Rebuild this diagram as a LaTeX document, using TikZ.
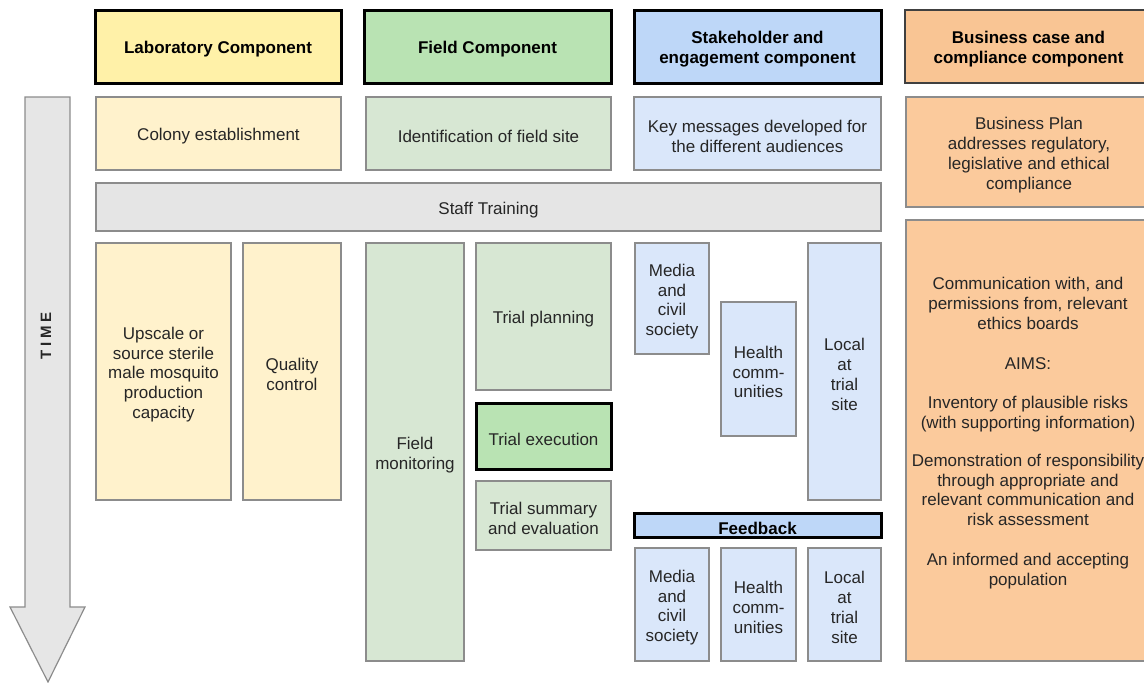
\documentclass[tikz,border=0pt]{standalone}
\usepackage{fontspec}
\setmainfont{Liberation Sans}
\definecolor{txt}{HTML}{262626}
\definecolor{bgray}{HTML}{8C8C8C}
\definecolor{labhead}{HTML}{FFF1A8}
\definecolor{lablight}{HTML}{FFF2CC}
\definecolor{fieldhead}{HTML}{B9E3B3}
\definecolor{fieldlight}{HTML}{D7E7D3}
\definecolor{stakehead}{HTML}{BED7F8}
\definecolor{stakelight}{HTML}{DAE7FA}
\definecolor{bushead}{HTML}{F9C594}
\definecolor{buslight}{HTML}{FBCA9C}
\definecolor{staffgray}{HTML}{E5E5E5}
\definecolor{arrowgray}{HTML}{E6E6E6}
\newcommand\bx[7]{%
  \node[#6, minimum width={#4-#2}, minimum height={#5-#3}] (#1) at ({(#2+#4)/2},{(#3+#5)/2}) {};
  \node[#6, draw=none, fill=none, minimum width=0pt, minimum height=0pt] (#1-t) at ([yshift=-3pt]#1.center) {#7};}
\tikzset{
  box/.style={draw=bgray, line width=1.2pt, inner sep=1pt, outer sep=0pt, align=center, text=txt, font=\fontsize{17}{19.8}\selectfont},
  head/.style={box, draw=black, line width=3pt, text=black, font=\fontsize{17}{20}\selectfont\bfseries},
  plain/.style={inner sep=0pt, align=center, text=txt, font=\fontsize{17}{19.8}\selectfont}
}
\begin{document}
\begin{tikzpicture}[x=1pt,y=-1pt]
\useasboundingbox (0,0) rectangle (1144,683);
% time arrow
\draw[draw=bgray, fill=arrowgray, line width=1.2pt, line join=miter]
  (25,97) -- (70,97) -- (70,607) -- (85,607) -- (48,682) -- (10,607) -- (25,607) -- cycle;
\node[rotate=90, text=txt, font=\fontsize{15}{15}\selectfont\bfseries] (time) at (46,336) {T\kern4pt I\kern4pt M\kern4pt E};
% headers
\bx{labh}{95}{10}{341}{83}{head, fill=labhead}{Laboratory Component}
\bx{fieldh}{364}{10}{611}{83}{head, fill=fieldhead}{Field Component}
\bx{stakeh}{634}{10}{881}{83}{head, fill=stakehead}{Stakeholder and\\engagement component}
\bx{bush}{905}{10}{1152}{83}{head, draw=black!75, line width=2.5pt, fill=bushead}{Business case and\\compliance component}
% second row
\bx{colony}{96}{97}{341}{170}{box, fill=lablight}{Colony establishment}
\bx{ident}{366}{97}{611}{170}{box, fill=fieldlight}{Identification of field site}
\bx{keymsg}{634}{97}{881}{170}{box, fill=stakelight}{Key messages developed for\\the different audiences}
\bx{bplan}{906}{97}{1152}{207}{box, fill=buslight}{Business Plan\\addresses regulatory,\\legislative and ethical\\compliance}
% staff training
\bx{staff}{96}{183}{881}{231}{box, fill=staffgray}{Staff Training}
% lab column
\bx{upscale}{96}{243}{231}{500}{box, fill=lablight}{Upscale or\\source sterile\\male mosquito\\production\\capacity}
\bx{quality}{243}{243}{341}{500}{box, fill=lablight}{Quality\\control}
% field column
\bx{fmon}{366}{243}{464}{661}{box, fill=fieldlight}{Field\\monitoring}
\bx{tplan}{476}{243}{611}{390}{box, fill=fieldlight}{Trial planning}
\bx{texec}{476}{403}{611}{469}{head, fill=fieldhead, font=\fontsize{17}{19.8}\selectfont, text=txt}{Trial execution}
\bx{tsum}{476}{481}{611}{550}{box, fill=fieldlight}{Trial summary\\and evaluation}
% stakeholder column
\bx{media1}{635}{243}{709}{354}{box, fill=stakelight}{Media\\and\\civil\\society}
\bx{health1}{721}{302}{796}{436}{box, fill=stakelight}{Health\\comm-\\unities}
\bx{local1}{808}{243}{881}{500}{box, fill=stakelight}{Local\\at\\trial\\site}
\bx{feedback}{634}{513}{881}{537}{head, fill=stakehead}{Feedback}
\bx{media2}{635}{548}{709}{661}{box, fill=stakelight}{Media\\and\\civil\\society}
\bx{health2}{721}{548}{796}{661}{box, fill=stakelight}{Health\\comm-\\unities}
\bx{local2}{808}{548}{881}{661}{box, fill=stakelight}{Local\\at\\trial\\site}
% business column
\node[box, fill=buslight, minimum width=246pt, minimum height=441pt] (busbig) at (1029,440.5) {};
\node[plain] (bustext) at (1028,433) {Communication with, and\\permissions from, relevant\\ethics boards\\[19.8pt]AIMS:\\[19.8pt]Inventory of plausible risks\\(with supporting information)\\[18pt]Demonstration of responsibility\\through appropriate and\\relevant communication and\\risk assessment\\[19.8pt]An informed and accepting\\population};
\end{tikzpicture}
\end{document}
